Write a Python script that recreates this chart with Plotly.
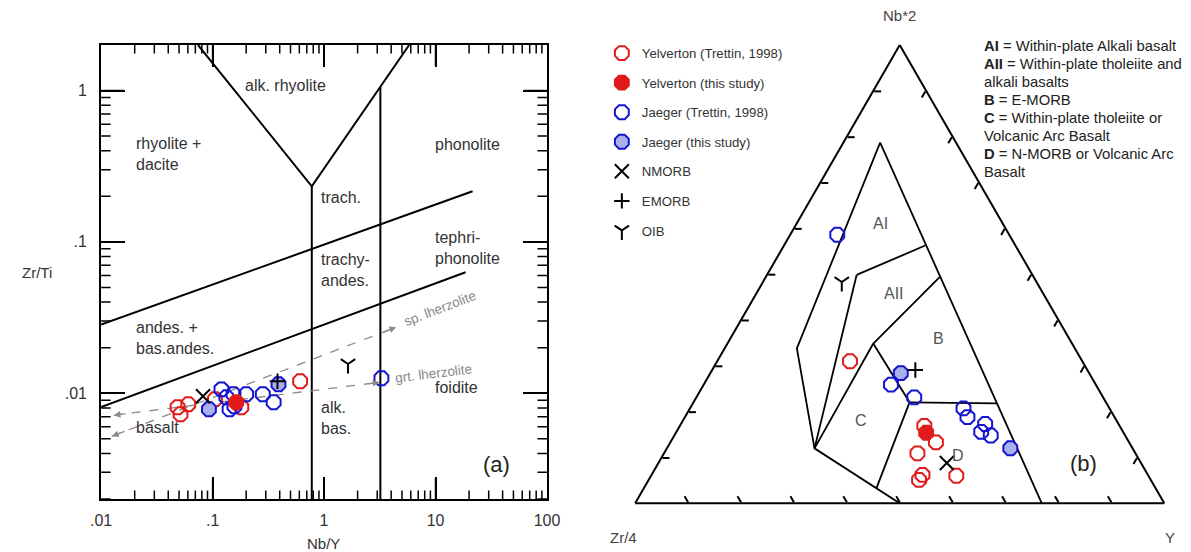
import numpy as np
import plotly.graph_objects as go

W, H = 1191, 552

# ---------------- Panel (a): Nb/Y vs Zr/Ti ----------------
yt_nby = [0.0485, 0.0515, 0.0605, 0.105, 0.181, 0.610]          # Yelverton (Trettin, 1998)
yt_zrti = [0.00808, 0.00726, 0.00846, 0.00913, 0.00808, 0.0120]
ys_nby = [0.163]                                                  # Yelverton (this study)
ys_zrti = [0.00872]
jt_nby = [0.120, 0.133, 0.154, 0.142, 0.157, 0.200, 0.282, 0.353, 3.27]   # Jaeger (Trettin, 1998)
jt_zrti = [0.0106, 0.00941, 0.00985, 0.00784, 0.00820, 0.00985, 0.00985, 0.00872, 0.01256]
js_nby = [0.0927, 0.390]                                          # Jaeger (this study)
js_zrti = [0.00784, 0.01146]
nmorb_a = [0.082, 0.00955]
emorb_a = [0.382, 0.0120]
oib_a = [1.64, 0.0156]

# field boundaries (Nb/Y, Zr/Ti)
v_nby, v_zrti = [0.074, 0.776, 5.8], [2.0, 0.233, 2.0]
vl_nby, vl_zrti = [0.776, 0.776], [0.233, 0.002]
vr_nby, vr_zrti = [3.2, 3.2], [1.06, 0.002]
du_nby, du_zrti = [0.01, 21.5], [0.0284, 0.216]
dl_nby, dl_zrti = [0.01, 18.6], [0.0081, 0.063]
# mantle melting trends (dashed)
sp_nby, sp_zrti = [0.0125, 4.43], [0.0052, 0.0273]
grt_nby, grt_zrti = [0.0130, 3.14], [0.00716, 0.0118]

x_range = [0.01, 100]
y_range = [0.002, 2]
x_major = [0.01, 0.1, 1, 10, 100]
x_major_text = [".01", ".1", "1", "10", "100"]
y_major = [0.01, 0.1, 1]
y_major_text = [".01", ".1", "1"]
x_minor = [k * 10.0 ** e for e in range(-2, 2) for k in range(2, 10)]
y_minor = [k * 10.0 ** e for e in range(-3, 0) for k in range(2, 10) if k * 10.0 ** e > 0.0019]

# ---------------- Panel (b): Meschede ternary (Nb*2, Zr/4, Y) in % ----------------
t_yt_nb = [31.0, 16.9, 13.3, 10.9, 6.2, 5.1, 6.0]
t_yt_zr = [43.9, 36.9, 36.5, 41.2, 42.6, 43.8, 36.3]
t_yt_y = [25.1, 46.2, 50.2, 47.9, 51.2, 51.1, 57.7]
t_ys_nb, t_ys_zr, t_ys_y = [15.4], [37.3], [47.3]
t_jt_nb = [58.6, 25.9, 23.1, 20.7, 18.8, 17.3, 15.6, 14.8]
t_jt_zr = [32.5, 38.7, 35.7, 27.6, 27.8, 25.2, 26.8, 25.4]
t_jt_y = [8.9, 35.4, 41.2, 51.7, 53.4, 57.5, 57.6, 59.8]
t_js_nb, t_js_zr, t_js_y = [28.4, 12.0], [35.6, 23.1], [36.0, 64.9]
t_nmorb = [8.8, 36.7, 54.5]
t_emorb = [29.1, 32.5, 38.4]
t_oib = [48.3, 36.8, 14.9]

# ternary field boundary vertices (Nb*2, Zr/4, Y)
P1 = [78.7, 14.35, 6.95]
P2 = [33.8, 52.54, 13.66]
P3 = [11.98, 60.1, 27.9]
P4 = [0.0, 50.0, 50.0]
P5 = [0.0, 23.15, 76.85]
P6 = [56.25, 17.06, 26.69]
P7 = [49.83, 33.23, 16.94]
P8 = [49.4, 17.71, 32.89]
P9 = [34.86, 37.57, 27.57]
P10 = [22.03, 37.13, 40.84]
P11 = [3.21, 52.83, 43.96]
P12 = [21.81, 20.76, 57.43]
tern_segments = [[P1, P2, P3, P4], [P1, P5], [P6, P7], [P7, P3], [P8, P9],
                 [P9, P3], [P9, P10], [P10, P11], [P10, P12]]
tern_ticks = [10, 20, 30, 40, 50, 60, 70, 80, 90]

legend_lines = ["<b>AI</b> = Within-plate Alkali basalt",
                "<b>AII</b> = Within-plate tholeiite and",
                "alkali basalts",
                "<b>B</b> = E-MORB",
                "<b>C</b> = Within-plate tholeiite or",
                "Volcanic Arc Basalt",
                "<b>D</b> = N-MORB or Volcanic Arc",
                "Basalt"]

RED = "#e11b1b"
BLUE = "#1414d2"
LBLUE = "#aab0ea"
GRAY = "#8a8a8a"
TXT = "#333333"

AX_L, AX_R, AX_T, AX_B = 92, 547, 45, 499
L = np.log10

fig = go.Figure()

# --- panel (a) boundaries
for xs, ys in [(v_nby, v_zrti), (vl_nby, vl_zrti), (vr_nby, vr_zrti),
               (du_nby, du_zrti), (dl_nby, dl_zrti)]:
    fig.add_trace(go.Scatter(x=xs, y=ys, mode="lines", line=dict(color="black", width=2),
                             showlegend=False, hoverinfo="skip", xaxis="x", yaxis="y"))
for xs, ys in [(sp_nby, sp_zrti), (grt_nby, grt_zrti)]:
    fig.add_trace(go.Scatter(x=xs, y=ys, mode="lines",
                             line=dict(color=GRAY, width=1.3, dash="dash"),
                             showlegend=False, hoverinfo="skip", xaxis="x", yaxis="y"))


def mk(symbol, fill, lc, size, lw=2):
    return dict(symbol=symbol, color=fill, size=size, line=dict(color=lc, width=lw))


styles = {
    "Yelverton (Trettin, 1998)": mk("octagon", "rgba(0,0,0,0)", RED, 15),
    "Yelverton (this study)": mk("octagon", RED, RED, 15),
    "Jaeger (Trettin, 1998)": mk("octagon", "rgba(0,0,0,0)", BLUE, 15),
    "Jaeger (this study)": mk("octagon", LBLUE, BLUE, 15),
    "NMORB": mk("x-thin", "black", "black", 14, 2),
    "EMORB": mk("cross-thin", "black", "black", 11, 2),
    "OIB": mk("y-down", "black", "black", 12, 2),
}
rank = {n: i + 1 for i, n in enumerate(styles)}

series_a = [
    ("Yelverton (Trettin, 1998)", yt_nby, yt_zrti),
    ("Jaeger (Trettin, 1998)", jt_nby, jt_zrti),
    ("Jaeger (this study)", js_nby, js_zrti),
    ("Yelverton (this study)", ys_nby, ys_zrti),
    ("NMORB", [nmorb_a[0]], [nmorb_a[1]]),
    ("EMORB", [emorb_a[0]], [emorb_a[1]]),
    ("OIB", [oib_a[0]], [oib_a[1]]),
]
for name, xs, ys in series_a:
    fig.add_trace(go.Scatter(x=xs, y=ys, mode="markers", name=name, marker=styles[name],
                             legendgroup=name, legendrank=rank[name], xaxis="x", yaxis="y"))

# --- panel (b) boundaries
for seg in tern_segments:
    fig.add_trace(go.Scatterternary(a=[p[0] for p in seg], b=[p[1] for p in seg], c=[p[2] for p in seg],
                                    mode="lines", line=dict(color="black", width=1.8),
                                    showlegend=False, hoverinfo="skip", subplot="ternary"))
series_b = [
    ("Yelverton (Trettin, 1998)", t_yt_nb, t_yt_zr, t_yt_y),
    ("Jaeger (Trettin, 1998)", t_jt_nb, t_jt_zr, t_jt_y),
    ("Jaeger (this study)", t_js_nb, t_js_zr, t_js_y),
    ("Yelverton (this study)", t_ys_nb, t_ys_zr, t_ys_y),
    ("NMORB", [t_nmorb[0]], [t_nmorb[1]], [t_nmorb[2]]),
    ("EMORB", [t_emorb[0]], [t_emorb[1]], [t_emorb[2]]),
    ("OIB", [t_oib[0]], [t_oib[1]], [t_oib[2]]),
]
for name, a, b, c in series_b:
    fig.add_trace(go.Scatterternary(a=a, b=b, c=c, mode="markers", marker=styles[name],
                                    showlegend=False, legendgroup=name, subplot="ternary"))

# ---------------- annotations ----------------
ann = []

# tick marks of panel (a): short head-less arrows anchored on the log axes
TICK = dict(text="", showarrow=True, arrowhead=0, arrowwidth=1.5, arrowcolor="black",
            standoff=0, startstandoff=0, axref="pixel", ayref="pixel", font=dict(size=1))
for vals, plen in ((x_major[1:-1], 22), (x_minor, 10)):
    for v in vals:
        ann.append(dict(x=L(v), y=0, xref="x", yref="y domain", ax=0, ay=-plen, **TICK))
        ann.append(dict(x=L(v), y=1, xref="x", yref="y domain", ax=0, ay=plen, **TICK))
for vals, plen in ((y_major, 24), (y_minor, 11)):
    for v in vals:
        ann.append(dict(x=0, y=L(v), xref="x domain", yref="y", ax=plen, ay=0, **TICK))
        ann.append(dict(x=1, y=L(v), xref="x domain", yref="y", ax=-plen, ay=0, **TICK))


def txt_a(text, lx, ly, xanchor="left", size=16, color=TXT, angle=0, yanchor="middle"):
    ann.append(dict(text=text, x=lx, y=ly, xref="x", yref="y", showarrow=False,
                    xanchor=xanchor, yanchor=yanchor, align="left", textangle=angle,
                    font=dict(size=size, color=color)))


txt_a("alk. rhyolite", -0.347, 0.036, xanchor="center")
txt_a("rhyolite +<br>dacite", -1.701, -0.417)
txt_a("phonolite", 0.980, -0.354)
txt_a("trach.", -0.048, -0.705)
txt_a("tephri-<br>phonolite", 0.980, -1.038)
txt_a("trachy-<br>andes.", -0.048, -1.187)
txt_a("andes. +<br>bas.andes.", -1.701, -1.637)
txt_a("basalt", -1.701, -2.225)
txt_a("alk.<br>bas.", -0.048, -2.162)
txt_a("foidite", 0.980, -1.960)
txt_a("(a)", 1.543, -2.469, xanchor="center", size=22, color="#222")
txt_a("sp. lherzolite", 1.040, -1.440, xanchor="center", size=13.5, color=GRAY, angle=-21)
txt_a("grt. lherzolite", 0.985, -1.872, xanchor="center", size=13.5, color=GRAY, angle=-7)

# arrow heads on the dashed trends
for xs, ys in [(sp_nby, sp_zrti), (grt_nby, grt_zrti)]:
    for e in (0, 1):
        o = 1 - e
        hx, hy = L(xs[e]), L(ys[e])
        bx = hx + 0.05 * (L(xs[o]) - hx)
        by = hy + 0.05 * (L(ys[o]) - hy)
        ann.append(dict(x=hx, y=hy, ax=bx, ay=by, xref="x", yref="y", axref="x", ayref="y",
                        text="", showarrow=True, arrowhead=2, arrowsize=1.1, arrowwidth=1.2,
                        arrowcolor=GRAY, standoff=0))


def txt_p(text, x, y, size=16, color=TXT, xanchor="center", yanchor="middle", align="left"):
    ann.append(dict(text=text, x=x / W, y=1 - y / H, xref="paper", yref="paper", showarrow=False,
                    xanchor=xanchor, yanchor=yanchor, align=align, font=dict(size=size, color=color)))


txt_p("Zr/Ti", 27, 272, size=15)
txt_p("Nb/Y", 319, 543, size=15)
txt_p("Nb*2", 907, 15, size=15, color="#444")
txt_p("Zr/4", 625, 537, size=15, color="#444")
txt_p("Y", 1183, 537, size=15, color="#444")
txt_p("AI", 887, 223, color="#555")
txt_p("AII", 901, 293, color="#555")
txt_p("B", 947, 338, color="#555")
txt_p("C", 867, 421, color="#555")
txt_p("D", 966, 455, color="#555")
txt_p("(b)", 1095, 463, size=22, color="#222")
for i, line in enumerate(legend_lines):
    txt_p(line, 991, 46 + 18 * i, size=14.8, color="#222", xanchor="left")

tern_axis = dict(showline=True, linecolor="black", linewidth=2, showgrid=False,
                 ticks="inside", ticklen=7, tickwidth=1.5, tickcolor="black",
                 tickmode="array", tickvals=tern_ticks, showticklabels=False,
                 title=dict(text=""))

fig.update_layout(
    width=W, height=H, margin=dict(l=0, r=0, t=0, b=0),
    paper_bgcolor="white", plot_bgcolor="white",
    font=dict(family="Liberation Sans, Arial, sans-serif", color=TXT),
    xaxis=dict(type="log", domain=[AX_L / W, AX_R / W], range=[L(x_range[0]), L(x_range[1])],
               anchor="y", tickmode="array", tickvals=x_major, ticktext=x_major_text,
               ticks="inside", ticklen=22, tickwidth=1.5, tickcolor="black",
               showline=True, linecolor="black", linewidth=2, mirror="ticks",
               showgrid=False, zeroline=False,
               tickfont=dict(size=16, color=TXT), ticklabelstandoff=6),
    yaxis=dict(type="log", domain=[1 - AX_B / H, 1 - AX_T / H], range=[L(y_range[0]), L(y_range[1])],
               anchor="x", tickmode="array", tickvals=y_major, ticktext=y_major_text,
               ticks="inside", ticklen=24, tickwidth=1.5, tickcolor="black",
               showline=True, linecolor="black", linewidth=2, mirror="ticks",
               showgrid=False, zeroline=False,
               tickfont=dict(size=16, color=TXT), ticklabelstandoff=9),
    ternary=dict(domain=dict(x=[637 / W, 1177 / W], y=[1 - 508 / H, 1 - (508 - 467.65) / H]),
                 sum=100, bgcolor="white",
                 aaxis=tern_axis, baxis=tern_axis, caxis=tern_axis),
    legend=dict(x=603 / W, y=1 - 38 / H, xanchor="left", yanchor="top",
                traceorder="grouped", tracegroupgap=9.4, bgcolor="rgba(0,0,0,0)",
                font=dict(size=13.2, color=TXT)),
    annotations=ann,
    showlegend=True,
)

fig.write_html("out.html")
